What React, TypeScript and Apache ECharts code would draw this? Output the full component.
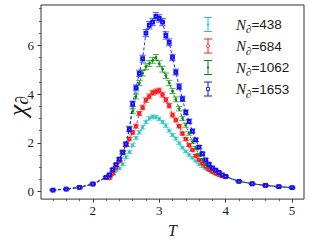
import React, { useEffect, useRef } from "react";
import * as echarts from "echarts";

const T_VALUES = [
  1.4, 1.6, 1.8, 2.0, 2.2,
  2.25, 2.3, 2.35, 2.4, 2.45, 2.5, 2.55, 2.6, 2.65, 2.7, 2.75, 2.8, 2.85, 2.9, 2.95,
  3.0, 3.05, 3.1, 3.15, 3.2, 3.25, 3.3, 3.35, 3.4, 3.45, 3.5, 3.55, 3.6, 3.65, 3.7,
  3.75, 3.8, 3.85, 3.9, 3.95,
  4.0, 4.2, 4.4, 4.6, 4.8, 5.0,
];

const CHI_438 = [
  0.06, 0.1, 0.17, 0.31, 0.57,
  0.58, 0.7, 0.84, 0.95, 1.12, 1.4, 1.62, 1.9, 2.2, 2.43, 2.63, 2.85, 3.0, 3.07, 3.05,
  2.98, 2.85, 2.7, 2.5, 2.32, 2.17, 1.98, 1.8, 1.65, 1.5, 1.38, 1.25, 1.12, 1.02, 0.93,
  0.85, 0.78, 0.72, 0.67, 0.62,
  0.59, 0.42, 0.32, 0.25, 0.2, 0.16,
];
const CHI_684 = [
  0.06, 0.1, 0.17, 0.31, 0.57,
  0.55, 0.74, 0.98, 1.24, 1.6, 1.9, 2.15, 2.42, 2.68, 3.2, 3.45, 3.75, 3.9, 4.05, 4.1,
  4.14, 3.97, 3.76, 3.52, 3.14, 2.93, 2.68, 2.38, 2.15, 1.9, 1.7, 1.47, 1.3, 1.15, 1.03,
  0.9, 0.82, 0.74, 0.68, 0.63,
  0.6, 0.42, 0.32, 0.25, 0.2, 0.16,
];
const CHI_1062 = [
  0.06, 0.1, 0.17, 0.31, 0.57,
  0.66, 0.87, 1.07, 1.3, 1.57, 1.92, 2.6, 3.3, 3.9, 4.45, 4.85, 5.12, 5.25, 5.38, 5.5,
  5.24, 5.02, 4.75, 4.45, 4.12, 3.78, 3.4, 3.0, 2.72, 2.38, 2.05, 1.78, 1.5, 1.3, 1.14,
  1.02, 0.92, 0.82, 0.74, 0.67,
  0.61, 0.42, 0.32, 0.25, 0.2, 0.16,
];
const CHI_1653 = [
  0.06, 0.1, 0.17, 0.31, 0.58,
  0.68, 0.9, 1.1, 1.33, 1.62, 1.95, 2.55, 3.6, 4.25, 4.85, 5.45, 6.5, 6.82, 6.95, 7.18,
  7.1, 6.95, 6.4, 6.12, 5.5, 4.9, 4.3, 3.8, 3.25, 2.88, 2.48, 2.12, 1.82, 1.55, 1.3,
  1.12, 0.97, 0.88, 0.78, 0.68,
  0.62, 0.42, 0.32, 0.25, 0.2, 0.16,
];

const ERR_438 = [
  0.02, 0.02, 0.02, 0.03, 0.03,
  0.03, 0.03, 0.04, 0.04, 0.05, 0.05, 0.06, 0.06, 0.06, 0.07, 0.07, 0.07, 0.07, 0.07, 0.07,
  0.07, 0.07, 0.07, 0.06, 0.06, 0.06, 0.06, 0.05, 0.05, 0.05, 0.04, 0.04, 0.04, 0.03, 0.03,
  0.03, 0.03, 0.03, 0.03, 0.03,
  0.03, 0.02, 0.02, 0.02, 0.02, 0.02,
];
const ERR_684 = [
  0.02, 0.02, 0.02, 0.03, 0.03,
  0.04, 0.04, 0.05, 0.05, 0.06, 0.06, 0.07, 0.07, 0.08, 0.08, 0.09, 0.09, 0.1, 0.1, 0.1,
  0.1, 0.1, 0.09, 0.09, 0.08, 0.08, 0.07, 0.07, 0.06, 0.06, 0.05, 0.05, 0.05, 0.04, 0.04,
  0.04, 0.03, 0.03, 0.03, 0.03,
  0.03, 0.02, 0.02, 0.02, 0.02, 0.02,
];
const ERR_1062 = [
  0.02, 0.02, 0.02, 0.03, 0.03,
  0.04, 0.05, 0.05, 0.06, 0.07, 0.07, 0.08, 0.09, 0.1, 0.1, 0.11, 0.12, 0.12, 0.12, 0.12,
  0.12, 0.12, 0.11, 0.11, 0.1, 0.1, 0.09, 0.08, 0.08, 0.07, 0.07, 0.06, 0.06, 0.05, 0.05,
  0.04, 0.04, 0.04, 0.03, 0.03,
  0.03, 0.02, 0.02, 0.02, 0.02, 0.02,
];
const ERR_1653 = [
  0.02, 0.02, 0.03, 0.03, 0.04,
  0.05, 0.05, 0.06, 0.07, 0.07, 0.08, 0.1, 0.11, 0.12, 0.13, 0.14, 0.15, 0.15, 0.15, 0.16,
  0.15, 0.15, 0.15, 0.14, 0.13, 0.12, 0.12, 0.11, 0.1, 0.09, 0.08, 0.07, 0.07, 0.06, 0.05,
  0.05, 0.04, 0.04, 0.04, 0.03,
  0.03, 0.02, 0.02, 0.02, 0.02, 0.02,
];

const SERIES_LABELS = ["438", "684", "1062", "1653"];
const SERIES_VALUES = [CHI_438, CHI_684, CHI_1062, CHI_1653];
const SERIES_ERRORS = [ERR_438, ERR_684, ERR_1062, ERR_1653];
const COLORS = ["#2cc4c4", "#ff1a1a", "#0a8a0a", "#1010ff"];
const SYMBOLS = ["rect", "emptyCircle", "circle", "emptyRect"];
const SYMBOL_SIZES = [2, 2.6, 2, 2.8];

const X_MIN = 1.22;
const X_MAX = 5.18;
const Y_MIN = -0.31;
const Y_MAX = 7.65;
const X_MAJOR = [2, 3, 4, 5];
const X_MINOR = [1.4, 1.6, 1.8, 2.2, 2.4, 2.6, 2.8, 3.2, 3.4, 3.6, 3.8, 4.2, 4.4, 4.6, 4.8];
const Y_MAJOR = [0, 2, 4, 6];
const Y_MINOR = [0.5, 1, 1.5, 2.5, 3, 3.5, 4.5, 5, 5.5, 6.5, 7, 7.5];

const SERIF = "'Liberation Serif', 'DejaVu Serif', serif";
const SANS = "'Liberation Sans', Arial, sans-serif";
const INK = "#1a1a1a";
const AXIS = "#333333";

export default function App() {
  const ref = useRef<HTMLDivElement>(null);

  useEffect(() => {
    if (!ref.current) return;
    const chart = echarts.init(ref.current, null, { renderer: "svg" });

    const series: any[] = [];
    SERIES_VALUES.forEach((vals, i) => {
      const color = COLORS[i];
      const errs = SERIES_ERRORS[i];
      series.push({
        type: "line",
        name: "N" + SERIES_LABELS[i],
        xAxisIndex: 0,
        yAxisIndex: 0,
        data: T_VALUES.map((t, j) => [t, vals[j]]),
        symbol: SYMBOLS[i],
        symbolSize: SYMBOL_SIZES[i],
        showSymbol: true,
        showAllSymbol: true,
        silent: true,
        lineStyle: { color, width: 0.9, type: [3, 2] },
        itemStyle: { color, borderColor: color, borderWidth: 0.9 },
      });
      series.push({
        type: "custom",
        name: "err" + i,
        xAxisIndex: 0,
        yAxisIndex: 0,
        silent: true,
        clip: false,
        data: T_VALUES.map((t, j) => [t, vals[j], errs[j]]),
        renderItem: (params: any, api: any) => {
          const x = api.value(0);
          const y = api.value(1);
          const e = api.value(2);
          const top = api.coord([x, y + e]);
          const bot = api.coord([x, y - e]);
          const st = { stroke: color, lineWidth: 1, opacity: 0.7 };
          return {
            type: "group",
            children: [
              { type: "line", shape: { x1: top[0], y1: top[1], x2: bot[0], y2: bot[1] }, style: st },
              { type: "line", shape: { x1: top[0] - 3.2, y1: top[1], x2: top[0] + 3.2, y2: top[1] }, style: st },
              { type: "line", shape: { x1: bot[0] - 3.2, y1: bot[1], x2: bot[0] + 3.2, y2: bot[1] }, style: st },
            ],
          };
        },
      });
    });

    const legendY = [24.5, 46, 67.5, 89];
    const legendGraphics: any[] = [];
    SERIES_LABELS.forEach((lab, i) => {
      const yc = legendY[i];
      const color = COLORS[i];
      const st = { stroke: color, lineWidth: 1 };
      const children: any[] = [
        { type: "line", shape: { x1: 208, y1: yc - 7, x2: 208, y2: yc + 7 }, style: st },
        { type: "line", shape: { x1: 204, y1: yc - 7, x2: 212, y2: yc - 7 }, style: st },
        { type: "line", shape: { x1: 204, y1: yc + 7, x2: 212, y2: yc + 7 }, style: st },
      ];
      if (i === 0) children.push({ type: "rect", shape: { x: 207, y: yc - 1, width: 2, height: 2 }, style: { fill: color } });
      if (i === 1) children.push({ type: "circle", shape: { cx: 208, cy: yc, r: 1.5 }, style: { fill: "#fff", stroke: color, lineWidth: 0.9 } });
      if (i === 2) children.push({ type: "circle", shape: { cx: 208, cy: yc, r: 1.1 }, style: { fill: color } });
      if (i === 3) children.push({ type: "rect", shape: { x: 206.5, y: yc - 1.5, width: 3, height: 3 }, style: { fill: "#fff", stroke: color, lineWidth: 0.9 } });
      legendGraphics.push({ type: "group", children, silent: true });
      legendGraphics.push({
        type: "text",
        x: 236,
        y: yc,
        silent: true,
        style: {
          text: "{n|N}{s|∂}{v|=" + lab + "}",
          align: "left",
          verticalAlign: "middle",
          rich: {
            n: { fontFamily: SERIF, fontStyle: "italic", fontSize: 15, lineHeight: 20, fill: INK, verticalAlign: "middle" },
            s: { fontFamily: SERIF, fontStyle: "italic", fontSize: 11, lineHeight: 11, fill: INK, verticalAlign: "bottom" },
            v: { fontFamily: SANS, fontSize: 13.5, lineHeight: 20, fill: INK, verticalAlign: "middle" },
          },
        },
      });
    });

    const option: any = {
      animation: false,
      backgroundColor: "#ffffff",
      grid: {
        left: 41,
        right: 6,
        top: 5,
        bottom: 41,
        show: true,
        borderColor: AXIS,
        borderWidth: 1,
        backgroundColor: "transparent",
      },
      xAxis: [
        {
          type: "value",
          min: X_MIN,
          max: X_MAX,
          position: "bottom",
          name: "T",
          nameLocation: "middle",
          nameGap: 19,
          nameTextStyle: { fontFamily: SERIF, fontStyle: "italic", fontSize: 16, color: INK },
          axisLine: { show: false, onZero: false },
          splitLine: { show: false },
          axisTick: { show: true, customValues: X_MAJOR, length: 3.5, lineStyle: { color: AXIS, width: 1 } },
          axisLabel: { customValues: X_MAJOR, margin: 5, fontFamily: SERIF, fontSize: 13, color: INK },
        },
        {
          type: "value",
          min: X_MIN,
          max: X_MAX,
          position: "bottom",
          axisLine: { show: false, onZero: false },
          splitLine: { show: false },
          axisTick: { show: true, customValues: X_MINOR, length: 2, lineStyle: { color: AXIS, width: 0.8 } },
          axisLabel: { show: false },
        },
      ],
      yAxis: [
        {
          type: "value",
          min: Y_MIN,
          max: Y_MAX,
          position: "left",
          axisLine: { show: false, onZero: false },
          splitLine: { show: false },
          axisTick: { show: true, customValues: Y_MAJOR, length: 3.5, lineStyle: { color: AXIS, width: 1 } },
          axisLabel: { customValues: Y_MAJOR, margin: 7, fontFamily: SERIF, fontSize: 13, color: INK },
        },
        {
          type: "value",
          min: Y_MIN,
          max: Y_MAX,
          position: "left",
          axisLine: { show: false, onZero: false },
          splitLine: { show: false },
          axisTick: { show: true, customValues: Y_MINOR, length: 2, lineStyle: { color: AXIS, width: 0.8 } },
          axisLabel: { show: false },
        },
      ],
      graphic: [
        {
          type: "text",
          x: 17,
          y: 106,
          rotation: Math.PI / 2,
          silent: true,
          style: {
            text: "{c|χ}{s|∂}",
            align: "center",
            verticalAlign: "middle",
            rich: {
              c: { fontFamily: SERIF, fontStyle: "italic", fontSize: 26, lineHeight: 28, fill: INK, verticalAlign: "middle" },
              s: { fontFamily: SERIF, fontStyle: "italic", fontSize: 18, lineHeight: 18, fill: INK, verticalAlign: "bottom" },
            },
          },
        },
        ...legendGraphics,
      ],
      series,
    };

    chart.setOption(option);
    return () => chart.dispose();
  }, []);

  return (
    <div
      ref={ref}
      style={{ position: "fixed", left: 0, top: 0, width: 310, height: 243, background: "#fff" }}
    />
  );
}
